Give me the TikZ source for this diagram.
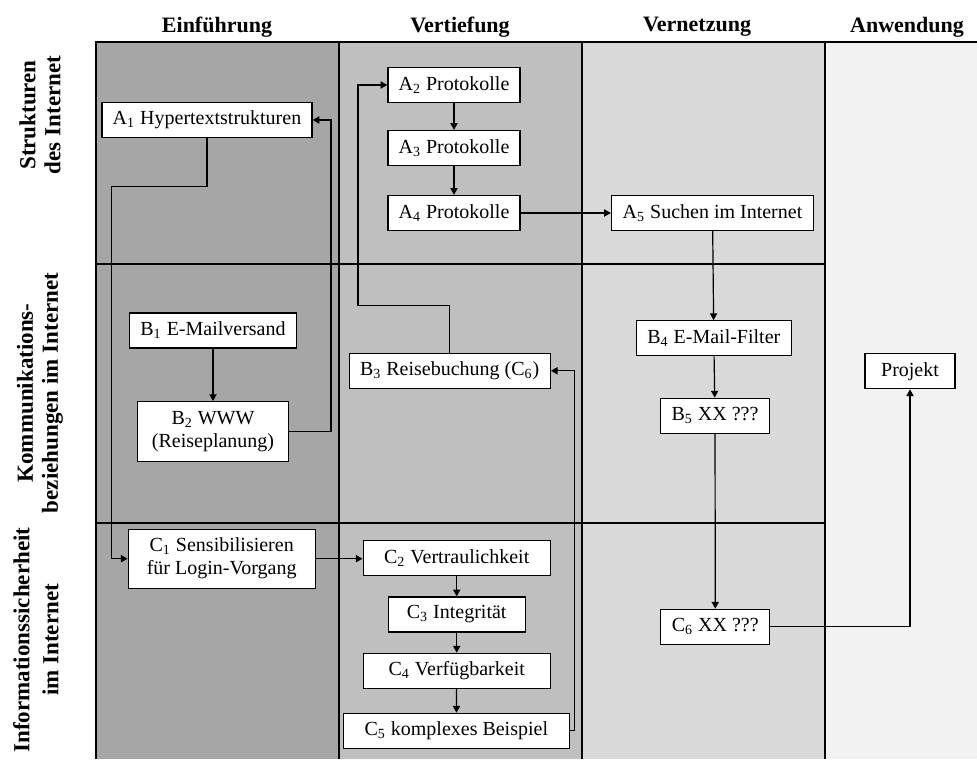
\documentclass[tikz,border=0pt]{standalone}
\usepackage{fontspec}
\setmainfont{Liberation Serif}
\usepackage{xcolor}
\usetikzlibrary{arrows.meta}
\definecolor{colEinf}{HTML}{A6A6A6}
\definecolor{colVert}{HTML}{BFBFBF}
\definecolor{colVern}{HTML}{D9D9D9}
\definecolor{colAnw}{HTML}{F2F2F2}
\newcommand{\ix}[1]{\textsubscript{#1}}
\begin{document}
\begin{tikzpicture}[x=0.5pt, y=-0.5pt,
  box/.style={draw, fill=white, line width=0.6pt, inner sep=0pt, minimum height=17.5pt, align=center, font=\fontsize{10}{11.5}\selectfont},
  arr/.style={-{Triangle[length=3.4pt,width=3.6pt]}, line width=0.6pt},
  head/.style={font=\fontsize{11}{13}\selectfont\bfseries},
  rowlab/.style={rotate=90, align=center, font=\fontsize{11.5}{12.5}\selectfont\bfseries},
  grid line/.style={line width=0.7pt}]
\useasboundingbox (0,0) rectangle (977,759);
% columns
\fill[colEinf] (96,42) rectangle (339,759);
\fill[colVert] (339,42) rectangle (582,759);
\fill[colVern] (582,42) rectangle (825,759);
\fill[colAnw] (825,42) rectangle (977,759);
\draw[grid line] (96,759) -- (96,42) -- (977,42);
\foreach \x in {339,582,825} \draw[grid line] (\x,42) -- (\x,759);
\foreach \y in {264,523} \draw[grid line] (96,\y) -- (825,\y);
% headers
\node[head] (hEinf) at (217,27) {Einführung};
\node[head] (hVert) at (460,27) {Vertiefung};
\node[head] (hVern) at (697,27) {Vernetzung};
\node[head] (hAnw) at (907,27) {Anwendung};
\node[rowlab] (rA) at (40,115) {Strukturen\\des Internet};
\node[rowlab] (rB) at (40,393) {Kommunikations-\\beziehungen im Internet};
\node[rowlab, font=\fontsize{11.5}{14.5}\selectfont\bfseries] (rC) at (36,640) {Informationssicherheit\\im Internet};
% boxes
\node[box, minimum width=105pt] (A1) at (207,120) {A\ix{1} Hypertextstrukturen};
\node[box, minimum width=66pt] (A2) at (454,85) {A\ix{2} Protokolle};
\node[box, minimum width=66pt] (A3) at (454,148) {A\ix{3} Protokolle};
\node[box, minimum width=66pt] (A4) at (454,213) {A\ix{4} Protokolle};
\node[box, minimum width=101pt] (A5) at (712.5,213) {A\ix{5} Suchen im Internet};
\node[box, minimum width=83.5pt] (B1) at (213,330.5) {B\ix{1} E-Mailversand};
\node[box, minimum width=75.5pt, minimum height=30pt] (B2) at (213,431.7) {B\ix{2} WWW\\(Reiseplanung)};
\node[box, minimum width=100.5pt] (B3) at (449.7,370.8) {B\ix{3} Reisebuchung (C\ix{6})};
\node[box, minimum width=77.5pt] (B4) at (713.8,338.2) {B\ix{4} E-Mail-Filter};
\node[box, minimum width=54.5pt] (B5) at (715,415.7) {B\ix{5} XX ???};
\node[box, minimum width=93.5pt, minimum height=29.5pt] (C1) at (221.7,558.7) {C\ix{1} Sensibilisieren\\für Login-Vorgang};
\node[box, minimum width=93.5pt] (C2) at (456.7,558) {C\ix{2} Vertraulichkeit};
\node[box, minimum width=68.5pt] (C3) at (456.7,614.5) {C\ix{3} Integrität};
\node[box, minimum width=93.5pt] (C4) at (456.7,670.8) {C\ix{4} Verfügbarkeit};
\node[box, minimum width=113pt] (C5) at (456.3,730.8) {C\ix{5} komplexes Beispiel};
\node[box, minimum width=54.5pt] (C6) at (715.3,626.8) {C\ix{6} XX ???};
\node[box, minimum width=45pt] (P) at (910,371.2) {Projekt};
% bends
\coordinate (k1) at (111.7,186.7);
\coordinate (k2) at (331,120);
\coordinate (k3) at (358,305.7);
\coordinate (k4) at (574.3,370.8);
% connectors
\draw[arr] (A1.south) |- (k1) |- (C1.west);
\draw[arr] (B2.east) -| (k2) -- (A1.east);
\draw[arr] (B3.north) |- (k3) |- (A2.west);
\draw[arr] (C5.east) -| (k4) -- (B3.east);
\draw[arr] (C6.east) -| (P.south);
\draw[arr] (A2) -- (A3);
\draw[arr] (A3) -- (A4);
\draw[arr] (A4) -- (A5);
\draw[arr] (A5) -- (B4);
\draw[arr] (B4) -- (B5);
\draw[arr] (B5) -- (C6);
\draw[arr] (B1) -- (B2);
\draw[arr] (C1.east) -- (C1.east -| C2.west);
\draw[arr] (C2) -- (C3);
\draw[arr] (C3) -- (C4);
\draw[arr] (C4) -- (C5);
\end{tikzpicture}
\end{document}
